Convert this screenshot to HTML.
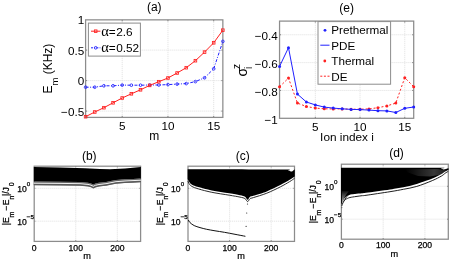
<!DOCTYPE html>
<html><head><meta charset="utf-8"><style>
html,body{margin:0;padding:0;background:#fff;}
svg{display:block;will-change:transform;}
text{font-family:"Liberation Sans", sans-serif;fill:#000;}
</style></head><body>
<svg width="450" height="261" viewBox="0 0 450 261">
<rect width="450" height="261" fill="#fff"/>
<path d="M122.20,19.85V117.4M167.95,19.85V117.4M213.70,19.85V117.4M85.6,50.10H222.85M85.6,80.60H222.85M85.6,111.10H222.85" stroke="#e2e2e2" stroke-width="0.9" stroke-dasharray="1.2,0.8" fill="none"/>
<path d="M122.20,117.4v-1.5M122.20,19.85v1.5M167.95,117.4v-1.5M167.95,19.85v1.5M213.70,117.4v-1.5M213.70,19.85v1.5M85.6,50.10h1.5M222.85,50.10h-1.5M85.6,80.60h1.5M222.85,80.60h-1.5M85.6,111.10h1.5M222.85,111.10h-1.5" stroke="#666" stroke-width="0.8" fill="none"/>
<rect x="85.6" y="19.85" width="137.25" height="97.55000000000001" fill="none" stroke="#8c8c8c" stroke-width="1.25"/>
<polyline points="85.60,87.20 94.75,87.20 103.90,85.80 113.05,85.80 122.20,85.10 131.35,85.20 140.50,85.20 149.65,85.00 158.80,85.00 167.95,84.60 177.10,84.10 186.25,83.60 195.40,81.60 204.55,77.80 213.70,68.80 222.85,41.40" fill="none" stroke="#2020ff" stroke-width="1" stroke-dasharray="3,1.5,1,1.5"/>
<circle cx="85.60" cy="87.20" r="1.35" fill="none" stroke="#2020ff" stroke-width="0.85"/>
<circle cx="94.75" cy="87.20" r="1.35" fill="none" stroke="#2020ff" stroke-width="0.85"/>
<circle cx="103.90" cy="85.80" r="1.35" fill="none" stroke="#2020ff" stroke-width="0.85"/>
<circle cx="113.05" cy="85.80" r="1.35" fill="none" stroke="#2020ff" stroke-width="0.85"/>
<circle cx="122.20" cy="85.10" r="1.35" fill="none" stroke="#2020ff" stroke-width="0.85"/>
<circle cx="131.35" cy="85.20" r="1.35" fill="none" stroke="#2020ff" stroke-width="0.85"/>
<circle cx="140.50" cy="85.20" r="1.35" fill="none" stroke="#2020ff" stroke-width="0.85"/>
<circle cx="149.65" cy="85.00" r="1.35" fill="none" stroke="#2020ff" stroke-width="0.85"/>
<circle cx="158.80" cy="85.00" r="1.35" fill="none" stroke="#2020ff" stroke-width="0.85"/>
<circle cx="167.95" cy="84.60" r="1.35" fill="none" stroke="#2020ff" stroke-width="0.85"/>
<circle cx="177.10" cy="84.10" r="1.35" fill="none" stroke="#2020ff" stroke-width="0.85"/>
<circle cx="186.25" cy="83.60" r="1.35" fill="none" stroke="#2020ff" stroke-width="0.85"/>
<circle cx="195.40" cy="81.60" r="1.35" fill="none" stroke="#2020ff" stroke-width="0.85"/>
<circle cx="204.55" cy="77.80" r="1.35" fill="none" stroke="#2020ff" stroke-width="0.85"/>
<circle cx="213.70" cy="68.80" r="1.35" fill="none" stroke="#2020ff" stroke-width="0.85"/>
<circle cx="222.85" cy="41.40" r="1.35" fill="none" stroke="#2020ff" stroke-width="0.85"/>
<polyline points="85.60,116.70 94.75,112.00 103.90,107.70 113.05,102.80 122.20,98.00 131.35,93.80 140.50,89.80 149.65,85.40 158.80,81.70 167.95,78.00 177.10,73.00 186.25,67.70 195.40,60.70 204.55,52.10 213.70,42.80 222.85,30.20" fill="none" stroke="#ff2020" stroke-width="1"/>
<rect x="84.30" y="115.40" width="2.6" height="2.6" fill="none" stroke="#ff2020" stroke-width="0.85"/>
<rect x="93.45" y="110.70" width="2.6" height="2.6" fill="none" stroke="#ff2020" stroke-width="0.85"/>
<rect x="102.60" y="106.40" width="2.6" height="2.6" fill="none" stroke="#ff2020" stroke-width="0.85"/>
<rect x="111.75" y="101.50" width="2.6" height="2.6" fill="none" stroke="#ff2020" stroke-width="0.85"/>
<rect x="120.90" y="96.70" width="2.6" height="2.6" fill="none" stroke="#ff2020" stroke-width="0.85"/>
<rect x="130.05" y="92.50" width="2.6" height="2.6" fill="none" stroke="#ff2020" stroke-width="0.85"/>
<rect x="139.20" y="88.50" width="2.6" height="2.6" fill="none" stroke="#ff2020" stroke-width="0.85"/>
<rect x="148.35" y="84.10" width="2.6" height="2.6" fill="none" stroke="#ff2020" stroke-width="0.85"/>
<rect x="157.50" y="80.40" width="2.6" height="2.6" fill="none" stroke="#ff2020" stroke-width="0.85"/>
<rect x="166.65" y="76.70" width="2.6" height="2.6" fill="none" stroke="#ff2020" stroke-width="0.85"/>
<rect x="175.80" y="71.70" width="2.6" height="2.6" fill="none" stroke="#ff2020" stroke-width="0.85"/>
<rect x="184.95" y="66.40" width="2.6" height="2.6" fill="none" stroke="#ff2020" stroke-width="0.85"/>
<rect x="194.10" y="59.40" width="2.6" height="2.6" fill="none" stroke="#ff2020" stroke-width="0.85"/>
<rect x="203.25" y="50.80" width="2.6" height="2.6" fill="none" stroke="#ff2020" stroke-width="0.85"/>
<rect x="212.40" y="41.50" width="2.6" height="2.6" fill="none" stroke="#ff2020" stroke-width="0.85"/>
<rect x="221.55" y="28.90" width="2.6" height="2.6" fill="none" stroke="#ff2020" stroke-width="0.85"/>
<rect x="88.4" y="23.1" width="52" height="33" fill="#fff" stroke="#8c8c8c" stroke-width="1"/>
<path d="M91,31.2H100.4" stroke="#ff2020" stroke-width="1"/>
<rect x="94.4" y="29.9" width="2.6" height="2.6" fill="none" stroke="#ff2020" stroke-width="0.85"/>
<path d="M91,47.8H100.4" stroke="#2020ff" stroke-width="1" stroke-dasharray="2,1.2,1,1.2"/>
<circle cx="95.7" cy="47.8" r="1.35" fill="none" stroke="#2020ff" stroke-width="0.85"/>
<text x="101.3" y="35.9" font-size="11.8"><tspan font-family='"Liberation Serif", serif' font-size="14.5">α</tspan><tspan dx="-0.2">=</tspan><tspan dx="0.6">2.6</tspan></text>
<text x="101.3" y="52.3" font-size="11.8"><tspan font-family='"Liberation Serif", serif' font-size="14.5">α</tspan><tspan dx="-0.2">=</tspan><tspan dx="0.6">0.52</tspan></text>
<text x="84.2" y="24.40" font-size="11.7" text-anchor="end" >1</text>
<text x="84.2" y="54.90" font-size="11.7" text-anchor="end" >0.5</text>
<text x="84.2" y="85.40" font-size="11.7" text-anchor="end" >0</text>
<text x="84.2" y="115.90" font-size="11.7" text-anchor="end" >−0.5</text>
<text x="122.20" y="129.6" font-size="11.7" text-anchor="middle" >5</text>
<text x="167.95" y="129.6" font-size="11.7" text-anchor="middle" >10</text>
<text x="213.70" y="129.6" font-size="11.7" text-anchor="middle" >15</text>
<text x="154.2" y="139.6" font-size="12" text-anchor="middle" >m</text>
<text x="154.3" y="11.1" font-size="12" text-anchor="middle" >(a)</text>
<text transform="translate(51.9,68.6) rotate(-90)" font-size="12" text-anchor="middle">E<tspan font-size="9.5" dy="6">m</tspan><tspan dy="-6"> (KHz)</tspan></text>
<path d="M315.32,21.1V118.3M360.04,21.1V118.3M404.75,21.1V118.3M279.55,34.78H413.7M279.55,62.62H413.7M279.55,90.46H413.7" stroke="#e2e2e2" stroke-width="0.9" stroke-dasharray="1.2,0.8" fill="none"/>
<path d="M315.32,118.3v-1.5M315.32,21.1v1.5M360.04,118.3v-1.5M360.04,21.1v1.5M404.75,118.3v-1.5M404.75,21.1v1.5M279.55,34.78h1.5M413.7,34.78h-1.5M279.55,62.62h1.5M413.7,62.62h-1.5M279.55,90.46h1.5M413.7,90.46h-1.5" stroke="#666" stroke-width="0.8" fill="none"/>
<rect x="279.55" y="21.1" width="134.14999999999998" height="97.19999999999999" fill="none" stroke="#8c8c8c" stroke-width="1.25"/>
<polyline points="279.55,86.80 288.49,78.10 297.44,103.10 306.38,106.50 315.32,108.10 324.26,108.80 333.21,108.90 342.15,108.90 351.09,109.20 360.04,109.20 368.98,108.90 377.92,107.70 386.87,105.90 395.81,103.10 404.75,77.70 413.69,86.70" fill="none" stroke="#ff2020" stroke-width="1" stroke-dasharray="2,2"/>
<circle cx="279.55" cy="86.80" r="1.5" fill="#ff2020"/>
<circle cx="288.49" cy="78.10" r="1.5" fill="#ff2020"/>
<circle cx="297.44" cy="103.10" r="1.5" fill="#ff2020"/>
<circle cx="306.38" cy="106.50" r="1.5" fill="#ff2020"/>
<circle cx="315.32" cy="108.10" r="1.5" fill="#ff2020"/>
<circle cx="324.26" cy="108.80" r="1.5" fill="#ff2020"/>
<circle cx="333.21" cy="108.90" r="1.5" fill="#ff2020"/>
<circle cx="342.15" cy="108.90" r="1.5" fill="#ff2020"/>
<circle cx="351.09" cy="109.20" r="1.5" fill="#ff2020"/>
<circle cx="360.04" cy="109.20" r="1.5" fill="#ff2020"/>
<circle cx="368.98" cy="108.90" r="1.5" fill="#ff2020"/>
<circle cx="377.92" cy="107.70" r="1.5" fill="#ff2020"/>
<circle cx="386.87" cy="105.90" r="1.5" fill="#ff2020"/>
<circle cx="395.81" cy="103.10" r="1.5" fill="#ff2020"/>
<circle cx="404.75" cy="77.70" r="1.5" fill="#ff2020"/>
<circle cx="413.69" cy="86.70" r="1.5" fill="#ff2020"/>
<polyline points="279.55,66.40 288.49,47.70 297.44,94.10 306.38,102.00 315.32,104.90 324.26,107.10 333.21,108.10 342.15,108.80 351.09,109.40 360.04,109.60 368.98,110.10 377.92,110.70 386.87,110.90 395.81,112.50 404.75,108.30 413.69,107.00" fill="none" stroke="#2020ff" stroke-width="1"/>
<circle cx="279.55" cy="66.40" r="1.5" fill="#2020ff"/>
<circle cx="288.49" cy="47.70" r="1.5" fill="#2020ff"/>
<circle cx="297.44" cy="94.10" r="1.5" fill="#2020ff"/>
<circle cx="306.38" cy="102.00" r="1.5" fill="#2020ff"/>
<circle cx="315.32" cy="104.90" r="1.5" fill="#2020ff"/>
<circle cx="324.26" cy="107.10" r="1.5" fill="#2020ff"/>
<circle cx="333.21" cy="108.10" r="1.5" fill="#2020ff"/>
<circle cx="342.15" cy="108.80" r="1.5" fill="#2020ff"/>
<circle cx="351.09" cy="109.40" r="1.5" fill="#2020ff"/>
<circle cx="360.04" cy="109.60" r="1.5" fill="#2020ff"/>
<circle cx="368.98" cy="110.10" r="1.5" fill="#2020ff"/>
<circle cx="377.92" cy="110.70" r="1.5" fill="#2020ff"/>
<circle cx="386.87" cy="110.90" r="1.5" fill="#2020ff"/>
<circle cx="395.81" cy="112.50" r="1.5" fill="#2020ff"/>
<circle cx="404.75" cy="108.30" r="1.5" fill="#2020ff"/>
<circle cx="413.69" cy="107.00" r="1.5" fill="#2020ff"/>
<rect x="318" y="21.6" width="72.6" height="62.6" fill="#fff" stroke="#8c8c8c" stroke-width="1"/>
<circle cx="325" cy="30.3" r="1.4" fill="#2020ff"/>
<path d="M320.3,45.2H329.5" stroke="#2020ff" stroke-width="1"/>
<circle cx="324.8" cy="61" r="1.4" fill="#ff2020"/>
<path d="M320.3,76.2H329.7" stroke="#ff2020" stroke-width="1" stroke-dasharray="2,1.6"/>
<text x="331.3" y="34" font-size="11.7" text-anchor="start" >Prethermal</text>
<text x="331.3" y="49.6" font-size="11.7" text-anchor="start" >PDE</text>
<text x="331.3" y="65.1" font-size="11.7" text-anchor="start" >Thermal</text>
<text x="331.3" y="80.7" font-size="11.7" text-anchor="start" >DE</text>
<text x="277.8" y="39.98" font-size="11.7" text-anchor="end" >−0.4</text>
<text x="277.8" y="67.82" font-size="11.7" text-anchor="end" >−0.6</text>
<text x="277.8" y="95.66" font-size="11.7" text-anchor="end" >−0.8</text>
<text x="277.8" y="123.50" font-size="11.7" text-anchor="end" >−1</text>
<text x="315.32" y="130.5" font-size="11.7" text-anchor="middle" >5</text>
<text x="360.04" y="130.5" font-size="11.7" text-anchor="middle" >10</text>
<text x="404.75" y="130.5" font-size="11.7" text-anchor="middle" >15</text>
<text x="347" y="140.9" font-size="11.8" text-anchor="middle" >Ion index i</text>
<text x="346.7" y="11.9" font-size="12" text-anchor="middle" >(e)</text>
<g transform="translate(246.2,75.6) rotate(-90)"><text x="-1.0" y="0.6" font-size="14" font-family='"Liberation Serif", serif'>σ</text><text x="6.6" y="-6.6" font-size="10">z</text><text x="6.5" y="5.6" font-size="10.5">i</text></g>
<path d="M75.76,166.2V241.4M117.33,166.2V241.4M34.2,188.30H140.6M34.2,221.20H140.6" stroke="#e2e2e2" stroke-width="0.9" stroke-dasharray="1.2,0.8" fill="none"/>
<path d="M75.76,241.4v-1.2M75.76,166.2v1.2M117.33,241.4v-1.2M117.33,166.2v1.2M34.2,188.30h1.2M140.6,188.30h-1.2M34.2,221.20h1.2M140.6,221.20h-1.2" stroke="#666" stroke-width="0.8" fill="none"/>
<rect x="34.2" y="166.2" width="106.39999999999999" height="75.20000000000002" fill="none" stroke="#8c8c8c" stroke-width="1.25"/>
<polygon points="33.80,181.50 60.00,181.70 80.00,182.00 88.00,182.70 91.00,183.50 93.30,184.60 95.50,183.60 99.00,182.80 106.00,182.00 112.00,180.80 116.00,180.00 125.00,179.30 133.00,178.90 140.90,178.50 140.90,182.30 133.00,182.70 125.00,183.10 116.00,183.80 112.00,184.60 106.00,185.80 99.00,186.60 95.50,187.40 93.30,188.40 91.00,187.30 88.00,186.50 80.00,185.80 60.00,185.50 33.80,185.30" fill="#666"/>
<polyline points="33.80,183.20 60.00,183.40 80.00,183.70 88.00,184.40 91.00,185.20 93.30,186.30 95.50,185.30 99.00,184.50 106.00,183.70 112.00,182.50 116.00,181.70 125.00,181.00 133.00,180.60 140.90,180.20" fill="none" stroke="#f2f2f2" stroke-width="1"/>
<polyline points="33.80,184.60 60.00,184.80 80.00,185.10 88.00,185.80 91.00,186.60 93.30,187.70 95.50,186.70 99.00,185.90 106.00,185.10 112.00,183.90 116.00,183.10 125.00,182.40 133.00,182.00 140.90,181.60" fill="none" stroke="#555" stroke-width="0.9"/>
<polygon points="33.80,167.00 60.00,167.60 85.00,168.20 100.00,169.00 110.00,169.20 125.00,168.40 138.00,167.30 140.90,167.00 140.90,178.50 133.00,178.90 125.00,179.30 116.00,180.00 112.00,180.80 106.00,182.00 99.00,182.80 95.50,183.60 93.30,184.60 91.00,183.50 88.00,182.70 80.00,182.00 60.00,181.70 33.80,181.50" fill="#000"/>
<text x="17.30" y="191.80" font-size="8.6" stroke="#000" stroke-width="0.25">10<tspan font-size="6.2" dy="-5.8">0</tspan></text>
<text x="17.30" y="224.70" font-size="8.6" stroke="#000" stroke-width="0.25">10<tspan font-size="6.2" dy="-5.8">−5</tspan></text>
<text x="34.20" y="250.60" font-size="8.6" text-anchor="middle" stroke="#000" stroke-width="0.25">0</text>
<text x="75.76" y="250.60" font-size="8.6" text-anchor="middle" stroke="#000" stroke-width="0.25">100</text>
<text x="117.33" y="250.60" font-size="8.6" text-anchor="middle" stroke="#000" stroke-width="0.25">200</text>
<text x="87.20" y="259.40" font-size="9.2" text-anchor="middle" stroke="#000" stroke-width="0.2">m</text>
<text x="89.3" y="159.6" font-size="12" text-anchor="middle" >(b)</text>
<text transform="translate(8.70,225.00) rotate(-90)" font-size="8.6" stroke="#000" stroke-width="0.25"><tspan x="-0.3">|E</tspan><tspan x="7.5" dy="5" font-size="7">m</tspan><tspan x="14" dy="-5">−</tspan><tspan x="19.8">E</tspan><tspan x="25.5" dy="5" font-size="7">n</tspan><tspan x="29" dy="-5">|/J</tspan><tspan x="38.7" dy="5" font-size="7">0</tspan></text>
<path d="M229.60,166.2V241.4M271.20,166.2V241.4M188.0,188.30H294.5M188.0,221.20H294.5" stroke="#e2e2e2" stroke-width="0.9" stroke-dasharray="1.2,0.8" fill="none"/>
<path d="M229.60,241.4v-1.2M229.60,166.2v1.2M271.20,241.4v-1.2M271.20,166.2v1.2M188.0,188.30h1.2M294.5,188.30h-1.2M188.0,221.20h1.2M294.5,221.20h-1.2" stroke="#666" stroke-width="0.8" fill="none"/>
<rect x="188.0" y="166.2" width="106.5" height="75.20000000000002" fill="none" stroke="#8c8c8c" stroke-width="1.25"/>
<path d="M187.60,169.30 C203.33,169.35 265.27,169.43 282.00,169.60 C298.73,169.77 286.42,169.97 288.00,170.30 C289.58,170.63 290.58,171.62 291.50,171.60 C292.42,171.58 292.95,170.60 293.50,170.20 C294.05,169.80 294.58,169.37 294.80,169.20 L294.80,176.60 C293.95,177.13 292.12,178.38 289.70,179.80 C287.28,181.22 284.12,183.17 280.30,185.10 C276.48,187.03 271.28,189.62 266.80,191.40 C262.32,193.18 256.20,194.90 253.40,195.80 C250.60,196.70 250.97,196.13 250.00,196.80 C249.03,197.47 248.43,199.82 247.60,199.80 C246.77,199.78 246.27,197.47 245.00,196.70 C243.73,195.93 242.62,195.77 240.00,195.20 C237.38,194.63 234.00,194.10 229.30,193.30 C224.60,192.50 216.95,191.45 211.80,190.40 C206.65,189.35 201.75,188.00 198.40,187.00 C195.05,186.00 193.27,185.32 191.70,184.40 C190.13,183.48 189.68,182.38 189.00,181.50 C188.32,180.62 187.83,179.50 187.60,179.10 Z" fill="#000"/>
<path d="M188.00,181.00 C188.17,181.42 188.38,182.62 189.00,183.50 C189.62,184.38 190.13,185.40 191.70,186.30 C193.27,187.20 195.05,187.90 198.40,188.90 C201.75,189.90 206.65,191.25 211.80,192.30 C216.95,193.35 224.60,194.40 229.30,195.20 C234.00,196.00 237.38,196.53 240.00,197.10 C242.62,197.67 243.73,197.85 245.00,198.60 C246.27,199.35 246.77,201.58 247.60,201.60 C248.43,201.62 249.03,199.37 250.00,198.70 C250.97,198.03 250.60,198.52 253.40,197.60 C256.20,196.68 262.32,194.98 266.80,193.20 C271.28,191.42 276.48,188.83 280.30,186.90 C284.12,184.97 287.33,183.03 289.70,181.60 C292.07,180.17 293.70,178.85 294.50,178.30" fill="none" stroke="#111" stroke-width="0.9"/>
<path d="M188.30,219.90 C188.58,220.35 189.02,221.65 190.00,222.60 C190.98,223.55 192.53,224.77 194.20,225.60 C195.87,226.43 197.92,226.98 200.00,227.60 C202.08,228.22 204.20,228.77 206.70,229.30 C209.20,229.83 212.05,230.30 215.00,230.80 C217.95,231.30 221.07,231.72 224.40,232.30 C227.73,232.88 231.50,233.63 235.00,234.30 C238.50,234.97 243.67,235.97 245.40,236.30" fill="none" stroke="#111" stroke-width="1"/>
<circle cx="247.5" cy="204" r="0.6" fill="#222"/>
<circle cx="246.7" cy="213" r="0.6" fill="#222"/>
<circle cx="246.1" cy="226.3" r="0.6" fill="#222"/>
<text x="171.10" y="191.80" font-size="8.6" stroke="#000" stroke-width="0.25">10<tspan font-size="6.2" dy="-5.8">0</tspan></text>
<text x="171.10" y="224.70" font-size="8.6" stroke="#000" stroke-width="0.25">10<tspan font-size="6.2" dy="-5.8">−5</tspan></text>
<text x="188.00" y="250.60" font-size="8.6" text-anchor="middle" stroke="#000" stroke-width="0.25">0</text>
<text x="229.60" y="250.60" font-size="8.6" text-anchor="middle" stroke="#000" stroke-width="0.25">100</text>
<text x="271.20" y="250.60" font-size="8.6" text-anchor="middle" stroke="#000" stroke-width="0.25">200</text>
<text x="241.00" y="259.40" font-size="9.2" text-anchor="middle" stroke="#000" stroke-width="0.2">m</text>
<text x="242.75" y="159.6" font-size="12" text-anchor="middle" >(c)</text>
<text transform="translate(162.50,225.00) rotate(-90)" font-size="8.6" stroke="#000" stroke-width="0.25"><tspan x="-0.3">|E</tspan><tspan x="7.5" dy="5" font-size="7">m</tspan><tspan x="14" dy="-5">−</tspan><tspan x="19.8">E</tspan><tspan x="25.5" dy="5" font-size="7">n</tspan><tspan x="29" dy="-5">|/J</tspan><tspan x="38.7" dy="5" font-size="7">0</tspan></text>
<path d="M383.16,164.2V239.2M424.92,164.2V239.2M341.4,186.30H448.3M341.4,219.20H448.3" stroke="#e2e2e2" stroke-width="0.9" stroke-dasharray="1.2,0.8" fill="none"/>
<path d="M383.16,239.2v-1.2M383.16,164.2v1.2M424.92,239.2v-1.2M424.92,164.2v1.2M341.4,186.30h1.2M448.3,186.30h-1.2M341.4,219.20h1.2M448.3,219.20h-1.2" stroke="#666" stroke-width="0.8" fill="none"/>
<rect x="341.4" y="164.2" width="106.90000000000003" height="75.0" fill="none" stroke="#8c8c8c" stroke-width="1.25"/>
<path d="M341.00,167.80 C356.83,167.80 419.33,167.70 436.00,167.80 C452.67,167.90 439.75,168.13 441.00,168.40 C442.25,168.67 442.67,169.30 443.50,169.40 C444.33,169.50 445.15,169.20 446.00,169.00 C446.85,168.80 448.17,168.33 448.60,168.20 L448.60,169.80 C448.03,170.10 446.38,170.90 445.20,171.60 C444.02,172.30 443.65,172.85 441.50,174.00 C439.35,175.15 435.35,177.22 432.30,178.50 C429.25,179.78 425.78,180.80 423.20,181.70 C420.62,182.60 420.10,182.98 416.80,183.90 C413.50,184.82 407.87,186.28 403.40,187.20 C398.93,188.12 396.23,188.47 390.00,189.40 C383.77,190.33 370.67,192.15 366.00,192.80 C361.33,193.45 363.83,193.12 362.00,193.30 C360.17,193.48 356.67,193.73 355.00,193.90 C353.33,194.07 353.00,194.12 352.00,194.30 C351.00,194.48 349.92,194.67 349.00,195.00 C348.08,195.33 347.25,195.75 346.50,196.30 C345.75,196.85 345.08,197.55 344.50,198.30 C343.92,199.05 343.42,200.02 343.00,200.80 C342.58,201.58 342.33,202.38 342.00,203.00 C341.67,203.62 341.17,204.25 341.00,204.50 Z" fill="#000"/>
<defs><linearGradient id="gw" x1="0" y1="0" x2="0" y2="1"><stop offset="0" stop-color="#fff" stop-opacity="0.05"/><stop offset="0.5" stop-color="#fff" stop-opacity="0.45"/><stop offset="1" stop-color="#fff" stop-opacity="0.9"/></linearGradient></defs>
<defs><linearGradient id="gt" x1="0" y1="0" x2="1" y2="0"><stop offset="0" stop-color="#fff" stop-opacity="0"/><stop offset="0.7" stop-color="#fff" stop-opacity="0.22"/><stop offset="1" stop-color="#fff" stop-opacity="0.1"/></linearGradient></defs>
<polygon points="405,169.3 438,169.0 445.5,170.2 446.5,172.2 440,174.8 430,176.6 418,176.0 408,172.5" fill="url(#gt)"/>
<polygon points="341.90,191.00 349.00,191.00 346.00,195.00 344.00,198.50 342.50,202.00 341.90,206.00" fill="url(#gw)"/>
<path d="M343.5,201.6 Q346,196 351.8,192" fill="none" stroke="#000" stroke-width="0.8"/>
<path d="M341.80,206.00 C341.88,205.70 342.02,204.90 342.30,204.20 C342.58,203.50 342.98,202.57 343.50,201.80 C344.02,201.03 344.73,200.17 345.40,199.60 C346.07,199.03 346.73,198.75 347.50,198.40 C348.27,198.05 348.58,197.82 350.00,197.50 C351.42,197.18 354.00,196.80 356.00,196.50 C358.00,196.20 360.33,195.90 362.00,195.70 C363.67,195.50 361.33,195.97 366.00,195.30 C370.67,194.63 383.77,192.70 390.00,191.70 C396.23,190.70 398.93,190.18 403.40,189.30 C407.87,188.42 411.98,187.85 416.80,186.40 C421.62,184.95 428.18,182.33 432.30,180.60 C436.42,178.87 439.35,177.23 441.50,176.00 C443.65,174.77 444.07,173.98 445.20,173.20 C446.33,172.42 447.78,171.62 448.30,171.30" fill="none" stroke="#111" stroke-width="0.95"/>
<circle cx="341.8" cy="207.6" r="0.6" fill="#555"/>
<text x="324.50" y="189.80" font-size="8.6" stroke="#000" stroke-width="0.25">10<tspan font-size="6.2" dy="-5.8">0</tspan></text>
<text x="324.50" y="222.70" font-size="8.6" stroke="#000" stroke-width="0.25">10<tspan font-size="6.2" dy="-5.8">−5</tspan></text>
<text x="341.40" y="248.40" font-size="8.6" text-anchor="middle" stroke="#000" stroke-width="0.25">0</text>
<text x="383.16" y="248.40" font-size="8.6" text-anchor="middle" stroke="#000" stroke-width="0.25">100</text>
<text x="424.92" y="248.40" font-size="8.6" text-anchor="middle" stroke="#000" stroke-width="0.25">200</text>
<text x="394.40" y="257.20" font-size="9.2" text-anchor="middle" stroke="#000" stroke-width="0.2">m</text>
<text x="396.5" y="157.3" font-size="12" text-anchor="middle" >(d)</text>
<text transform="translate(315.90,223.00) rotate(-90)" font-size="8.6" stroke="#000" stroke-width="0.25"><tspan x="-0.3">|E</tspan><tspan x="7.5" dy="5" font-size="7">m</tspan><tspan x="14" dy="-5">−</tspan><tspan x="19.8">E</tspan><tspan x="25.5" dy="5" font-size="7">n</tspan><tspan x="29" dy="-5">|/J</tspan><tspan x="38.7" dy="5" font-size="7">0</tspan></text>
</svg>
</body></html>
